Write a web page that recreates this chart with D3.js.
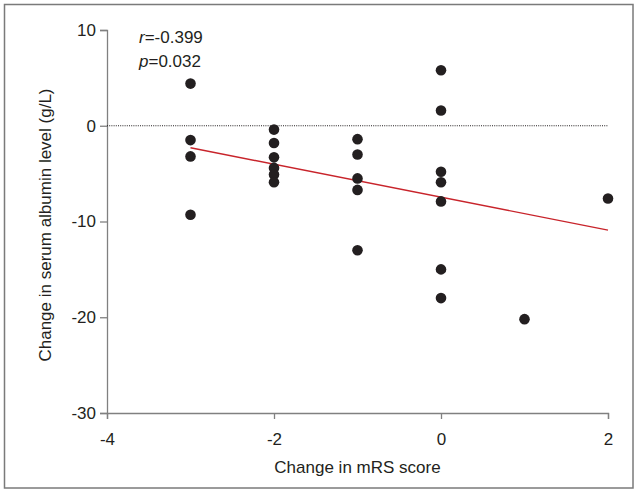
<!DOCTYPE html>
<html>
<head>
<meta charset="utf-8">
<script src="https://cdn.jsdelivr.net/npm/d3@7"></script>
<style>
  html, body { margin: 0; padding: 0; background: #fff; }
  svg { display: block; }
  text { font-family: "Liberation Sans", Arial, sans-serif; fill: #231f20; }
</style>
</head>
<body>
<svg id="chart" width="638" height="494"></svg>
<script>
// Data
const mrsChange = [-3, -3, -3, -3,
                   -2, -2, -2, -2, -2, -2,
                   -1, -1, -1, -1, -1,
                    0, 0, 0, 0, 0, 0, 0,
                    1, 2];
const albuminChange = [4.4, -1.5, -3.2, -9.3,
                       -0.4, -1.8, -3.3, -4.4, -5.1, -5.9,
                       -1.4, -3.0, -5.5, -6.7, -13.0,
                        5.8, 1.6, -4.8, -5.9, -7.9, -15.0, -18.0,
                       -20.2, -7.6];
const fitX = [-3, 2];
const fitY = [-2.3, -10.9];
const xTicks = [-4, -2, 0, 2];
const yTicks = [10, 0, -10, -20, -30];
const statLines = [{ sym: "r", val: "=-0.399" }, { sym: "p", val: "=0.032" }];

const FONT = "'Liberation Sans', Arial, sans-serif";
const svg = d3.select("#chart");
const axisColor = "#808080";

// outer frame
svg.append("rect")
  .attr("x", 4.5).attr("y", 4.5)
  .attr("width", 628.5).attr("height", 483.5)
  .attr("fill", "none").attr("stroke", "#7a7a7a").attr("stroke-width", 1.5);

const x = d3.scaleLinear().domain([-4, 2]).range([107, 608]);
const y = d3.scaleLinear().domain([-30, 10]).range([413, 30]);

// axes
const xAxis = svg.append("g")
  .attr("transform", `translate(0,${y(-30)})`)
  .call(d3.axisBottom(x).tickValues(xTicks).tickSize(6).tickPadding(14)
        .tickFormat(d => d < 0 ? "-" + Math.abs(d) : d));
const yAxis = svg.append("g")
  .attr("transform", `translate(${x(-4)},0)`)
  .call(d3.axisLeft(y).tickValues(yTicks).tickSize(7).tickPadding(4)
        .tickFormat(d => d < 0 ? "-" + Math.abs(d) : d));

[xAxis, yAxis].forEach(g => {
  g.select(".domain").attr("stroke", axisColor).attr("stroke-width", 1.3);
  g.selectAll(".tick line").attr("stroke", axisColor).attr("stroke-width", 1.3);
  g.selectAll(".tick text")
    .attr("fill", "#231f20")
    .style("font-family", FONT)
    .style("font-size", "17px");
});

// zero reference line (dotted)
svg.append("line")
  .attr("x1", x(-4)).attr("x2", x(2))
  .attr("y1", y(0)).attr("y2", y(0))
  .attr("stroke", "#231f20").attr("stroke-width", 1)
  .attr("stroke-dasharray", "1,1.2");

// regression line
svg.append("line")
  .attr("x1", x(fitX[0])).attr("y1", y(fitY[0]))
  .attr("x2", x(fitX[1])).attr("y2", y(fitY[1]))
  .attr("stroke", "#c8242b").attr("stroke-width", 1.4);

// points
svg.append("g").selectAll("circle")
  .data(mrsChange.map((d, i) => [d, albuminChange[i]]))
  .join("circle")
  .attr("cx", d => x(d[0]))
  .attr("cy", d => y(d[1]))
  .attr("r", 5.3)
  .attr("fill", "#231f20");

// stats annotation
statLines.forEach((s, i) => {
  const t = svg.append("text")
    .attr("x", 139).attr("y", 43 + i * 24)
    .style("font-size", "17px");
  t.append("tspan").attr("font-style", "italic").text(s.sym);
  t.append("tspan").text(s.val);
});

// axis titles
svg.append("text")
  .attr("x", (x(-4) + x(2)) / 2).attr("y", 473)
  .attr("text-anchor", "middle")
  .style("font-size", "17px")
  .text("Change in mRS score");

svg.append("text")
  .attr("transform", `translate(51,225) rotate(-90)`)
  .attr("text-anchor", "middle")
  .style("font-size", "17px")
  .text("Change in serum albumin level (g/L)");
</script>
</body>
</html>
